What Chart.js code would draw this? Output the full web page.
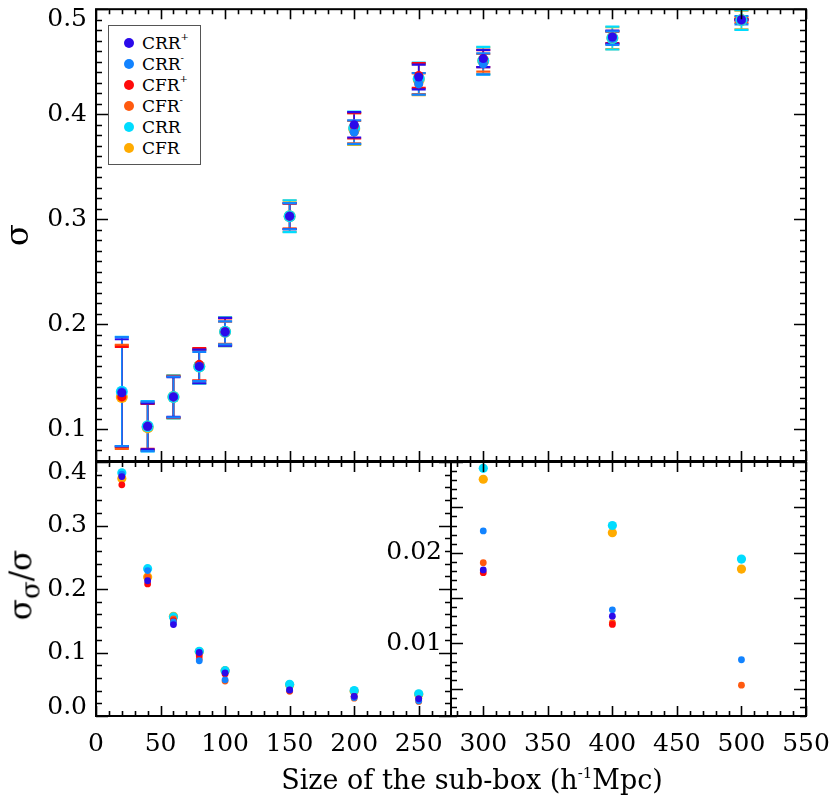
<!DOCTYPE html>
<html>
<head>
<meta charset="utf-8">
<script src="https://cdn.jsdelivr.net/npm/chart.js@4.4.1/dist/chart.umd.min.js"></script>
<style>
  html, body { margin:0; padding:0; background:#fff; width:830px; height:799px; overflow:hidden; font-family:'DejaVu Serif', serif; }
  canvas { position:absolute; left:0; top:0; }
  #legend { position:absolute; left:108px; top:25px; width:91px; height:132px; padding-top:6px; border:1px solid #555; background:#fff; }
  .row { height:21px; display:flex; align-items:center; font-family:'DejaVu Serif', serif; font-size:17px; color:#000; }
  .dot { width:10px; height:10px; border-radius:50%; margin-left:15px; margin-right:8px; flex:none; }
  .sup { font-size:10px; position:relative; top:-6px; }
  .anchor { position:absolute; width:0; height:0; }
  .rot { position:absolute; left:0; top:0; white-space:nowrap; line-height:1; transform:translate(-50%,-50%) rotate(-90deg); font-family:'DejaVu Serif', serif; color:#000; }
  .hor { position:absolute; left:0; top:0; white-space:nowrap; line-height:1; transform:translate(-50%,-50%); font-family:'DejaVu Serif', serif; color:#000; }
</style>
</head>
<body>
<canvas id="cTop" width="830" height="799"></canvas>
<canvas id="cBL" width="830" height="799"></canvas>
<canvas id="cBR" width="830" height="799"></canvas>
<div id="legend"></div>
<div class="anchor" style="left:21px; top:585px;">
  <div class="rot" style="font-size:31px;">σ<span style="font-size:26px; position:relative; top:8px;">σ</span>/σ</div>
</div>
<div class="anchor" style="left:472px; top:779px;">
  <div class="hor" style="font-size:27px;">Size of the sub-box (h<span style="font-size:15px; position:relative; top:-11px;">-1</span>Mpc)</div>
</div>
<script>
// ---------------- data ----------------
const sizes = [20, 40, 60, 80, 100, 150, 200, 250, 300, 400, 500];
const seriesNames = ['CRR', 'CRR', 'CFR', 'CFR', 'CRR', 'CFR'];
const seriesSup   = ['+', '-', '+', '-', '', ''];
const seriesColors = ['#2b0aea', '#1283ff', '#ff0a0a', '#ff5a10', '#00dcff', '#ffab00'];

// sigma (top panel)
const sigmaCRRp = [0.135, 0.103, 0.131, 0.160, 0.193, 0.303, 0.390, 0.4355, 0.453, 0.4735, 0.490];
const sigmaCRRm = [0.136, 0.103, 0.131, 0.160, 0.192, 0.303, 0.383, 0.429, 0.448, 0.4725, 0.4895];
const sigmaCFRp = [0.131, 0.103, 0.131, 0.162, 0.193, 0.303, 0.389, 0.437, 0.453, 0.4735, 0.490];
const sigmaCFRm = [0.131, 0.103, 0.131, 0.161, 0.192, 0.303, 0.383, 0.429, 0.449, 0.4725, 0.4895];
const sigmaCRR  = [0.136, 0.103, 0.131, 0.160, 0.193, 0.303, 0.387, 0.434, 0.451, 0.4725, 0.4897];
const sigmaCFR  = [0.131, 0.102, 0.131, 0.160, 0.193, 0.303, 0.386, 0.433, 0.451, 0.4725, 0.4897];

// sigma_sigma / sigma (bottom panels)
const relCRRp = [0.377, 0.213, 0.144, 0.100, 0.068, 0.041, 0.031, 0.027, 0.0181, 0.0130, 0.0012];
const relCRRm = [0.381, 0.229, 0.148, 0.087, 0.057, 0.041, 0.029, 0.024, 0.0224, 0.0137, 0.0082];
const relCFRp = [0.364, 0.208, 0.150, 0.095, 0.066, 0.040, 0.031, 0.027, 0.0178, 0.0121, 0.0012];
const relCFRm = [0.378, 0.219, 0.153, 0.090, 0.055, 0.039, 0.028, 0.023, 0.0189, 0.0123, 0.0054];
const relCRR  = [0.383, 0.232, 0.156, 0.102, 0.0714, 0.050, 0.040, 0.035, 0.0293, 0.0230, 0.0193];
const relCFR  = [0.374, 0.219, 0.157, 0.101, 0.0714, 0.049, 0.039, 0.034, 0.0281, 0.0222, 0.0182];

// tick labels
const topYTicks = [0.1, 0.2, 0.3, 0.4, 0.5];
const topYLabels = ['0.1', '0.2', '0.3', '0.4', '0.5'];
const blYTicks = [0.0, 0.1, 0.2, 0.3, 0.4];
const blYLabels = ['0.0', '0.1', '0.2', '0.3', '0.4'];
const brYTicks = [0.01, 0.02];
const brYLabels = ['0.01', '0.02'];
const blXTicks = [0, 50, 100, 150, 200, 250];
const brXTicks = [300, 350, 400, 450, 500, 550];

// --------------- build ---------------
const sigmas = [sigmaCRRp, sigmaCRRm, sigmaCFRp, sigmaCFRm, sigmaCRR, sigmaCFR];
const rels = [relCRRp, relCRRm, relCFRp, relCFRm, relCRR, relCFR];

// legend
const leg = document.getElementById('legend');
seriesNames.forEach((n, i) => {
  const r = document.createElement('div'); r.className = 'row';
  const d = document.createElement('span'); d.className = 'dot'; d.style.background = seriesColors[i];
  const t = document.createElement('span'); t.textContent = n;
  r.appendChild(d); r.appendChild(t);
  if (seriesSup[i]) { const s = document.createElement('span'); s.className = 'sup'; s.textContent = seriesSup[i]; r.appendChild(s); }
  leg.appendChild(r);
});

const FONT = 'DejaVu Serif';

const idlFrame = {
  id: 'idlFrame',
  beforeDraw(chart, args, o) {
    const ys = chart.scales.y;
    if (o.labelShift && ys && ys.getLabelItems) {
      ys.getLabelItems().forEach(it => {
        if (!it._shifted && o.labelShift[it.label] !== undefined) {
          it.options.translation[1] += o.labelShift[it.label];
          it._shifted = true;
        }
      });
    }
  },
  afterDraw(chart, args, o) {
    const { ctx, chartArea: a } = chart;
    const xs = chart.scales.x, ys = chart.scales.y;
    const marks = (min, max, minor, major) => {
      const out = [];
      for (let k = Math.ceil(min / minor - 1e-9); k * minor <= max + 1e-9; k++) {
        const v = k * minor;
        out.push([v, Math.abs(v / major - Math.round(v / major)) < 1e-6]);
      }
      return out;
    };
    ctx.save();
    ctx.strokeStyle = '#000';
    ctx.lineWidth = 1.6;
    ctx.beginPath();
    for (const [v, m] of marks(xs.min, xs.max, o.xMinor, o.xMajor)) {
      const px = Math.round(xs.getPixelForValue(v)) + 0.5;
      const L = m ? 10 : 5;
      ctx.moveTo(px, a.bottom); ctx.lineTo(px, a.bottom - L);
      ctx.moveTo(px, a.top); ctx.lineTo(px, a.top + L);
    }
    for (const [v, m] of marks(ys.min, ys.max, o.yMinor, o.yMajor)) {
      const py = Math.round(ys.getPixelForValue(v)) + 0.5;
      const L = m ? 12 : 6;
      ctx.moveTo(a.left, py); ctx.lineTo(a.left + L, py);
      ctx.moveTo(a.right, py); ctx.lineTo(a.right - L, py);
    }
    ctx.stroke();
    ctx.lineWidth = 2;
    ctx.strokeRect(a.left, a.top, a.right - a.left, a.bottom - a.top);
    ctx.restore();
  }
};

function pointSets(values, big, small) {
  return seriesNames.map((n, i) => ({
    label: n + seriesSup[i],
    data: sizes.map((x, j) => ({ x, y: values[i][j] })),
    showLine: false,
    pointRadius: i >= 4 ? big : small,
    pointBackgroundColor: seriesColors[i],
    pointBorderWidth: 0,
    pointBorderColor: seriesColors[i]
  }));
}

const barOrder = [1, 0, 2, 3, 4, 5];
const capSets = barOrder.map(i => ({
  label: 'cap' + i,
  data: sizes.flatMap((x, j) => {
    const e = sigmas[i][j] * rels[i][j];
    return [{ x, y: sigmas[i][j] + e }, { x, y: sigmas[i][j] - e }];
  }),
  showLine: false,
  pointStyle: 'line',
  pointRadius: 7,
  pointBorderWidth: 2.2,
  pointBorderColor: seriesColors[i],
  pointBackgroundColor: seriesColors[i]
}));
const barSets = barOrder.map(i => ({
  label: 'bar' + i,
  data: sizes.flatMap((x, j) => {
    const e = sigmas[i][j] * rels[i][j];
    return [{ x, y: sigmas[i][j] - e }, { x, y: sigmas[i][j] + e }, { x, y: null }];
  }),
  showLine: true,
  spanGaps: false,
  pointRadius: 0,
  borderWidth: 1.6,
  borderColor: seriesColors[i]
}));

function yAxis(min, max, ticks, labels, width, titleText) {
  return {
    type: 'linear', position: 'left', min, max,
    afterBuildTicks: s => { s.ticks = ticks.map(v => ({ value: v })); },
    afterFit: s => { s.width = width; s.paddingTop = 0; s.paddingBottom = 0; },
    grid: { display: false, drawTicks: false },
    border: { display: false },
    ticks: {
      padding: 9, color: '#000', font: { family: FONT, size: 25 },
      callback: (v, idx) => labels[idx]
    },
    title: titleText ? { display: true, text: titleText, color: '#000', font: { family: FONT, size: 32 }, padding: { top: 0, bottom: 0 } } : { display: false }
  };
}
function xAxis(min, max, ticks, show) {
  return {
    type: 'linear', position: 'bottom', min, max, display: show,
    afterBuildTicks: s => { if (ticks) s.ticks = ticks.map(v => ({ value: v })); },
    afterFit: s => { s.height = show ? 50 : 0; s.paddingLeft = 0; s.paddingRight = 0; },
    grid: { display: false, drawTicks: false },
    border: { display: false },
    ticks: {
      padding: 13, color: '#000', font: { family: FONT, size: 25 },
      autoSkip: false, maxRotation: 0, minRotation: 0,
      callback: v => String(v)
    }
  };
}

const common = {
  responsive: false, animation: false, events: [],
  plugins: { legend: { display: false }, tooltip: { enabled: false } }
};

// top panel
new Chart(document.getElementById('cTop'), {
  type: 'scatter',
  data: { datasets: [...pointSets(sigmas, 6, 4.5), ...capSets, ...barSets] },
  options: {
    ...common,
    layout: { padding: { left: 0, right: 24, top: 4, bottom: 338 } },
    scales: { x: xAxis(0, 550, null, false), y: yAxis(0.07, 0.5, topYTicks, topYLabels, 96, 'σ') },
    plugins: { ...common.plugins, idlFrame: { xMinor: 10, xMajor: 50, yMinor: 0.01, yMajor: 0.1, labelShift: { '0.5': 10 } } }
  },
  plugins: [idlFrame]
});

// bottom-left panel
new Chart(document.getElementById('cBL'), {
  type: 'scatter',
  data: { datasets: pointSets(rels, 4.6, 3.4) },
  options: {
    ...common,
    layout: { padding: { left: 0, right: 379, top: 462, bottom: 33 } },
    scales: { x: xAxis(0, 275, blXTicks, true), y: yAxis(0, 0.4, blYTicks, blYLabels, 96, null) },
    plugins: { ...common.plugins, idlFrame: { xMinor: 10, xMajor: 50, yMinor: 0.02, yMajor: 0.1, labelShift: { '0.4': 10, '0.0': -9 } } }
  },
  plugins: [idlFrame]
});

// bottom-right panel
new Chart(document.getElementById('cBR'), {
  type: 'scatter',
  data: { datasets: pointSets(rels, 4.6, 3.4) },
  options: {
    ...common,
    layout: { padding: { left: 0, right: 24, top: 462, bottom: 33 } },
    scales: { x: xAxis(275, 550, brXTicks, true), y: yAxis(0.002, 0.03, brYTicks, brYLabels, 451, null) },
    plugins: { ...common.plugins, idlFrame: { xMinor: 10, xMajor: 50, yMinor: 0.001, yMajor: 0.005 } }
  },
  plugins: [idlFrame]
});
</script>
</body>
</html>
